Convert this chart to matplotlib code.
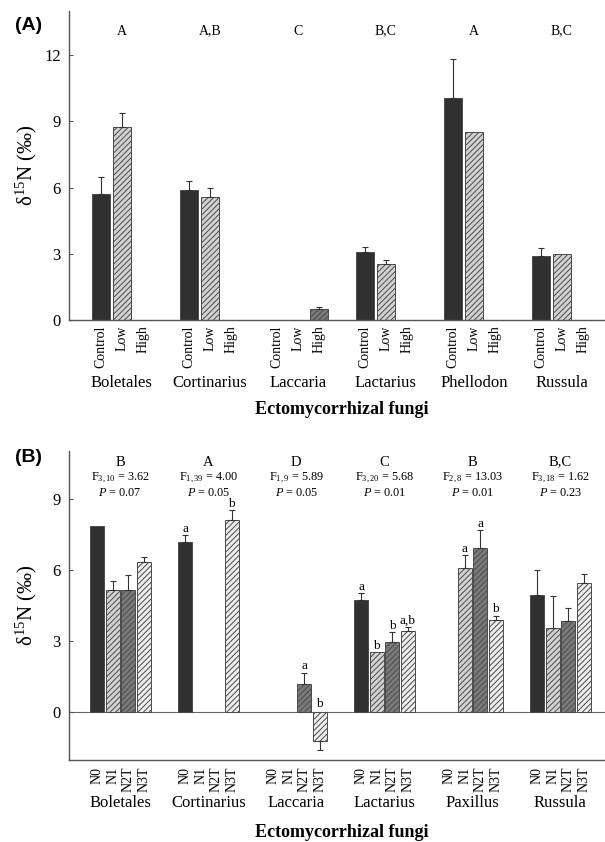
import numpy as np
import matplotlib
matplotlib.use("Agg")
import matplotlib.pyplot as plt

nan = np.nan

# ---------------- Panel A data ----------------
genera_a = ['Boletales', 'Cortinarius', 'Laccaria', 'Lactarius', 'Phellodon', 'Russula']
treat_a = ['Control', 'Low', 'High']
control_a = [5.73, 5.91, nan, 3.07, 10.05, 2.91]
control_a_err = [0.74, 0.38, nan, 0.26, 1.77, 0.37]
low_a = [8.74, 5.56, nan, 2.55, 8.53, 3.00]
low_a_err = [0.65, 0.41, nan, 0.16, nan, nan]
high_a = [nan, nan, 0.48, nan, nan, nan]
high_a_err = [nan, nan, 0.13, nan, nan, nan]
letters_a = ['A', 'A,B', 'C', 'B,C', 'A', 'B,C']

# ---------------- Panel B data ----------------
genera_b = ['Boletales', 'Cortinarius', 'Laccaria', 'Lactarius', 'Paxillus', 'Russula']
treat_b = ['N0', 'N1', 'N2T', 'N3T']
n0_b = [7.85, 7.17, nan, 4.74, nan, 4.95]
n0_b_err = [nan, 0.28, nan, 0.28, nan, 1.05]
n1_b = [5.16, nan, nan, 2.54, 6.06, 3.56]
n1_b_err = [0.37, nan, nan, nan, 0.56, 1.35]
n2t_b = [5.16, nan, 1.21, 2.96, 6.90, 3.86]
n2t_b_err = [0.62, nan, 0.47, 0.42, 0.77, 0.52]
n3t_b = [6.35, 8.11, -1.22, 3.41, 3.88, 5.44]
n3t_b_err = [0.20, 0.40, 0.38, 0.17, 0.19, 0.39]
letters_b = ['B', 'A', 'D', 'C', 'B', 'B,C']
f_df = ['3,10', '1,39', '1,9', '3,20', '2,8', '3,18']
f_val = ['3.62', '4.00', '5.89', '5.68', '13.03', '1.62']
p_val = ['0.07', '0.05', '0.05', '0.01', '0.01', '0.23']
posthoc_n0 = ['', 'a', '', 'a', '', '']
posthoc_n1 = ['', '', '', 'b', 'a', '']
posthoc_n2t = ['', '', 'a', 'b', 'a', '']
posthoc_n3t = ['', 'b', 'b', 'a,b', 'b', '']

# ---------------- style ----------------
plt.rcParams['font.family'] = ['Liberation Serif', 'DejaVu Serif']
plt.rcParams['mathtext.fontset'] = 'custom'
plt.rcParams['mathtext.rm'] = 'Liberation Serif'
plt.rcParams['mathtext.it'] = 'Liberation Serif:italic'
plt.rcParams['hatch.linewidth'] = 0.7

DARK = '#303030'
EDGE = '#4a4a4a'
styles_a = [dict(color=DARK, hatch=None),
            dict(color='#d2d2d2', hatch='//////'),
            dict(color='#7a7a7a', hatch='//////')]
styles_b = [dict(color=DARK, hatch=None),
            dict(color='#d2d2d2', hatch='//////'),
            dict(color='#7a7a7a', hatch='//////'),
            dict(color='#ededed', hatch='//////')]

fig = plt.figure(figsize=(6.05, 8.42), dpi=100)
axA = fig.add_axes([69 / 605, 1 - 320 / 842, 1 - 69 / 605, 309 / 842])
axB = fig.add_axes([69 / 605, 1 - 760 / 842, 1 - 69 / 605, 309 / 842])

err_kw = dict(ecolor='#333333', elinewidth=0.8, capsize=2.2, capthick=0.8)


def draw_bars(ax, x, vals, errs, st, width):
    vals = np.array(vals, float)
    errs = np.array(errs, float)
    ok = ~np.isnan(vals)
    ax.bar(x[ok], vals[ok], width=width, color=st['color'], hatch=st['hatch'],
           edgecolor=EDGE, linewidth=0.7, zorder=2)
    e_ok = ok & ~np.isnan(errs)
    v = vals[e_ok]
    e = errs[e_ok]
    lower = np.where(v < 0, e, 0)
    upper = np.where(v >= 0, e, 0)
    ax.errorbar(x[e_ok], v, yerr=[lower, upper], fmt='none', zorder=3, **err_kw)


def style_axes(ax):
    for s in ['top', 'right']:
        ax.spines[s].set_visible(False)
    for s in ['left', 'bottom']:
        ax.spines[s].set_color('#555555')
        ax.spines[s].set_linewidth(1.0)
    ax.tick_params(axis='y', direction='in', length=3, color='#555555', labelsize=12, pad=6)
    ax.tick_params(axis='x', length=0, labelsize=10)


# ---------------- Panel A ----------------
xa = np.arange(len(genera_a), dtype=float)
wa, da = 0.205, 0.24
series_a = [(control_a, control_a_err), (low_a, low_a_err), (high_a, high_a_err)]
for k, (v, e) in enumerate(series_a):
    draw_bars(axA, xa + (k - 1) * da, v, e, styles_a[k], wa)
axA.set_xlim(-0.6, 5.49)
axA.set_ylim(0, 14)
axA.set_yticks([0, 3, 6, 9, 12])
ticks_a = np.concatenate([xa + (k - 1) * da for k in range(3)])
labs_a = [t for t in treat_a for _ in genera_a]
axA.set_xticks(ticks_a)
axA.set_xticklabels(labs_a, rotation=90, va='top', ha='center')
axA.tick_params(axis='x', pad=4)
style_axes(axA)
tr = axA.get_xaxis_transform()
for i, g in enumerate(genera_a):
    axA.text(xa[i], -0.204, g, transform=tr, ha='center', va='center', fontsize=12)
    axA.text(xa[i], 0.935, letters_a[i], transform=tr, ha='center', va='center', fontsize=10)
axA.text(2.5, -0.291, 'Ectomycorrhizal fungi', transform=tr, ha='center', va='center',
         fontsize=13, fontweight='bold')
axA.set_ylabel('δ$^{15}$N (‰)', fontsize=15)
axA.yaxis.set_label_coords(-0.056, 0.5)
fig.text(15 / 605, 1 - 25 / 842, '(A)', family=['Liberation Sans', 'DejaVu Sans'],
         fontweight='bold', fontsize=14, ha='left', va='center')

# ---------------- Panel B ----------------
xb = np.arange(len(genera_b), dtype=float) - 0.017
wb, db = 0.16, 0.176
series_b = [(n0_b, n0_b_err, posthoc_n0), (n1_b, n1_b_err, posthoc_n1),
            (n2t_b, n2t_b_err, posthoc_n2t), (n3t_b, n3t_b_err, posthoc_n3t)]
for k, (v, e, ph) in enumerate(series_b):
    xk = xb + (k - 1.5) * db
    draw_bars(axB, xk, v, e, styles_b[k], wb)
    for i, lab in enumerate(ph):
        if not lab:
            continue
        val = v[i]
        err = 0 if np.isnan(e[i]) else e[i]
        y = val + err + 0.02 if val >= 0 else 0.12
        axB.text(xk[i], y, lab, ha='center', va='bottom', fontsize=9.5)
axB.axhline(0, color='#666666', lw=0.8, zorder=1)
axB.set_xlim(-0.6, 5.49)
axB.set_ylim(-2, 11)
axB.set_yticks([0, 3, 6, 9])
ticks_b = np.concatenate([xb + (k - 1.5) * db for k in range(4)])
labs_b = [t for t in treat_b for _ in genera_b]
axB.set_xticks(ticks_b)
axB.set_xticklabels(labs_b, rotation=90, va='top', ha='center')
axB.tick_params(axis='x', pad=5)
style_axes(axB)
trb = axB.get_xaxis_transform()
for i, g in enumerate(genera_b):
    axB.text(xb[i], -0.139, g, transform=trb, ha='center', va='center', fontsize=12)
    axB.text(xb[i], 0.964, letters_b[i], transform=trb, ha='center', va='center', fontsize=10.5)
    axB.text(xb[i], 0.913, 'F$_{' + f_df[i] + '}$ = ' + f_val[i], transform=trb,
             ha='center', va='center', fontsize=8.8)
    axB.text(xb[i], 0.863, '$P$ = ' + p_val[i], transform=trb,
             ha='center', va='center', fontsize=8.8)
axB.text(2.5, -0.236, 'Ectomycorrhizal fungi', transform=trb, ha='center', va='center',
         fontsize=13, fontweight='bold')
axB.set_ylabel('δ$^{15}$N (‰)', fontsize=15)
axB.yaxis.set_label_coords(-0.056, 0.5)
fig.text(15 / 605, 1 - 457 / 842, '(B)', family=['Liberation Sans', 'DejaVu Sans'],
         fontweight='bold', fontsize=14, ha='left', va='center')

fig.savefig('out.png', dpi=100)
